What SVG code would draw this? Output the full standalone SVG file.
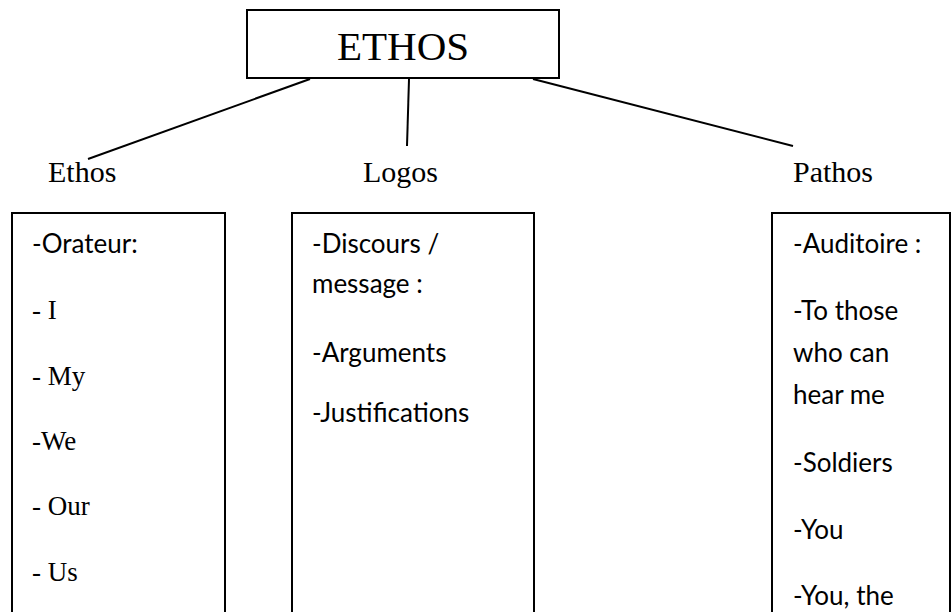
<svg xmlns="http://www.w3.org/2000/svg" width="952" height="612" viewBox="0 0 952 612">
<style>
.box{fill:#fff;stroke:#000;stroke-width:2}
.serif{font-family:"Liberation Serif","Times New Roman",serif;fill:#000}
.sans{font-family:Lato,"Liberation Sans",sans-serif;font-size:26px;fill:#000}
.conn line{stroke:#000;stroke-width:2}
</style>
<rect width="952" height="612" fill="#fff"/>
<g class="conn" id="connectors">
<line x1="310" y1="79" x2="88" y2="159"/>
<line x1="409" y1="79" x2="407" y2="146"/>
<line x1="533" y1="79" x2="793" y2="146"/>
</g>
<g id="root">
<rect class="box" x="247" y="10" width="312" height="68"/>
<text class="serif" x="403" y="60" font-size="41" text-anchor="middle">ETHOS</text>
</g>
<g id="label-ethos"><text class="serif" x="48" y="182" font-size="30">Ethos</text></g>
<g id="label-logos"><text class="serif" x="363" y="182" font-size="30">Logos</text></g>
<g id="label-pathos"><text class="serif" x="793" y="182" font-size="30">Pathos</text></g>
<g id="box-ethos">
<rect class="box" x="12" y="213" width="213" height="410"/>
<text class="sans" x="32" y="253">-Orateur:</text>
<text class="serif" x="32" y="319" font-size="27">- I</text>
<text class="serif" x="32" y="385" font-size="27">- My</text>
<text class="serif" x="32" y="450" font-size="27">-We</text>
<text class="serif" x="32" y="515" font-size="27">- Our</text>
<text class="serif" x="32" y="581" font-size="27">- Us</text>
</g>
<g id="box-logos">
<rect class="box" x="292" y="213" width="242" height="410"/>
<text class="sans" x="312" y="253">-Discours /</text>
<text class="sans" x="312" y="293">message :</text>
<text class="sans" x="312" y="362">-Arguments</text>
<text class="sans" x="312" y="422">-Justifications</text>
</g>
<g id="box-pathos">
<rect class="box" x="772" y="213" width="178" height="410"/>
<text class="sans" x="793" y="253">-Auditoire :</text>
<text class="sans" x="793" y="320">-To those</text>
<text class="sans" x="793" y="362">who can</text>
<text class="sans" x="793" y="404">hear me</text>
<text class="sans" x="793" y="472">-Soldiers</text>
<text class="sans" x="793" y="539">-You</text>
<text class="sans" x="793" y="605">-You, the</text>
</g>
</svg>
